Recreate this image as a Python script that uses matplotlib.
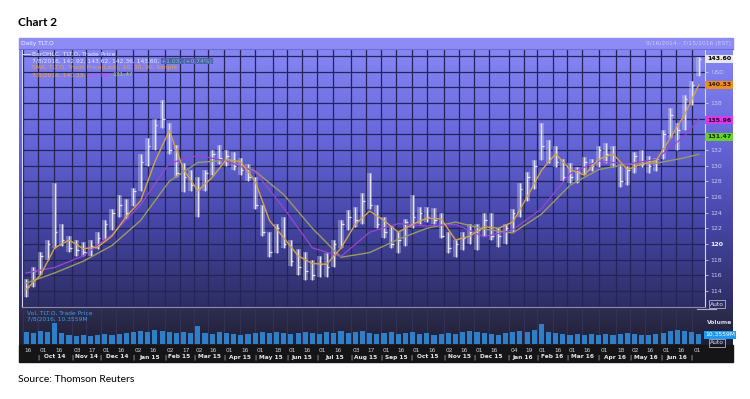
import matplotlib
matplotlib.use('Agg')
import numpy as np
import pandas as pd
import matplotlib.pyplot as plt
import matplotlib.dates as mdates
from matplotlib.colors import LinearSegmentedColormap
from matplotlib.patches import Rectangle
from matplotlib.transforms import blended_transform_factory

# weekly bars (week ending Fridays)
highs = [115.5, 117.0, 119.0, 120.5, 127.8, 122.5, 121.0, 120.5, 120.2, 120.5,
         121.5, 123.0, 124.5, 126.3, 125.8, 127.2, 131.5, 133.5, 136.0, 138.4,
         135.5, 132.6, 130.3, 129.5, 128.5, 129.5, 132.0, 132.6, 132.0, 131.8,
         131.0, 130.2, 128.5, 125.0, 121.5, 122.5, 123.4, 120.5, 119.3, 119.0,
         118.0, 118.5, 118.8, 120.5, 123.0, 124.3, 124.7, 126.5, 129.0, 125.0,
         123.5, 122.3, 121.5, 123.2, 126.2, 124.7, 124.7, 124.6, 124.0, 121.5,
         120.5, 121.5, 122.5, 122.5, 124.0, 124.0, 122.0, 122.5, 124.5, 127.8,
         129.2, 130.7, 135.4, 133.3, 132.5, 130.8, 130.3, 129.8, 131.1, 130.8,
         132.5, 132.9, 132.5, 130.2, 130.0, 131.8, 132.0, 131.2, 131.0, 134.5,
         137.4, 135.5, 139.0, 140.8, 143.9]
lows = [113.2, 114.5, 116.0, 118.0, 119.5, 119.8, 119.0, 118.5, 118.4, 118.5,
        119.3, 120.5, 121.8, 123.5, 123.2, 124.8, 126.8, 130.0, 132.0, 134.8,
        131.5, 128.5, 126.6, 126.7, 123.4, 126.8, 128.8, 130.2, 130.0, 129.5,
        128.8, 128.0, 124.5, 121.0, 118.3, 118.8, 119.5, 117.2, 116.0, 115.4,
        115.4, 115.8, 115.8, 117.0, 119.5, 121.8, 122.2, 122.5, 124.5, 122.0,
        120.8, 119.5, 118.8, 119.8, 122.0, 122.5, 122.8, 122.5, 120.8, 118.8,
        118.3, 119.2, 120.0, 119.2, 121.0, 120.5, 119.6, 120.0, 121.5, 123.5,
        125.5, 127.0, 130.7, 130.3, 129.8, 128.0, 127.8, 127.8, 128.8, 129.3,
        129.8, 130.3, 129.8, 127.3, 127.5, 129.0, 129.8, 129.0, 129.3, 130.8,
        133.5, 132.0, 134.5, 137.8, 141.5]
closes = [114.5, 116.5, 118.5, 120.0, 121.5, 120.5, 119.5, 119.2, 119.0, 119.8,
          120.8, 122.5, 124.0, 125.0, 124.0, 126.8, 130.5, 132.5, 135.2, 136.0,
          132.0, 129.0, 128.5, 127.5, 127.0, 129.0, 131.5, 131.0, 131.2, 130.0,
          129.5, 128.5, 125.0, 121.5, 119.0, 122.0, 120.0, 117.8, 117.0, 116.5,
          116.0, 117.5, 117.0, 120.0, 122.5, 123.5, 123.0, 125.5, 125.0, 122.5,
          121.5, 120.0, 120.5, 122.8, 123.5, 124.0, 123.5, 123.0, 121.0, 119.5,
          120.0, 120.8, 121.5, 121.8, 123.0, 121.0, 121.0, 122.0, 124.0, 127.0,
          128.5, 130.0, 132.5, 131.0, 130.5, 128.5, 128.5, 129.2, 130.5, 130.0,
          132.0, 131.5, 130.0, 128.0, 129.5, 131.2, 130.2, 130.0, 130.8, 134.0,
          136.5, 134.5, 138.5, 140.3, 143.6]
volume = [12, 11, 13, 12, 21, 11, 9, 8, 9, 8,
          9, 10, 9, 10, 11, 12, 13, 12, 14, 13,
          12, 11, 12, 11, 18, 11, 10, 12, 11, 10,
          9, 10, 11, 12, 11, 12, 11, 10, 11, 12,
          11, 10, 12, 11, 13, 11, 12, 13, 11, 10,
          11, 12, 10, 11, 12, 10, 11, 9, 10, 11,
          10, 12, 13, 12, 11, 10, 9, 11, 12, 13,
          12, 14, 20, 12, 11, 10, 9, 10, 9, 10,
          9, 10, 9, 10, 11, 10, 9, 9, 10, 11,
          13, 14, 13, 12, 10]

# moving averages: fast one every 2nd week, slower ones every 4th week (+ last)
sma_fast = [114.2, 116.0, 119.5, 120.5, 119.4, 119.6, 121.0, 123.5, 125.5, 130.5,
            134.5, 129.5, 126.8, 128.5, 130.8, 130.5, 128.0, 123.0, 120.8, 118.5,
            117.5, 117.4, 119.5, 122.5, 124.2, 123.0, 121.5, 122.5, 123.3, 123.2,
            120.5, 121.0, 122.2, 122.0, 122.8, 126.0, 129.4, 131.5, 129.5, 128.8,
            130.8, 131.5, 129.5, 130.2, 130.6, 133.5, 136.5, 140.33]
sma_mid = [116.3, 117.0, 118.5, 121.2, 125.0, 130.3, 131.3, 130.6, 129.2, 124.6,
           119.5, 118.4, 121.5, 122.6, 122.3, 122.5, 120.9, 121.8, 124.5, 129.0,
           130.6, 130.2, 130.8, 133.8, 135.96]
sma_slow = [115.0, 116.3, 117.8, 119.8, 123.0, 128.0, 130.4, 130.7, 129.3, 126.3,
            122.0, 118.3, 118.9, 120.6, 122.0, 122.8, 121.9, 121.4, 123.8, 127.5,
            129.5, 130.2, 130.3, 131.0, 131.47]

tick_dates = ['2014-09-16', '2014-10-01', '2014-10-16', '2014-11-03', '2014-11-17',
              '2014-12-01', '2014-12-16', '2015-01-02', '2015-01-16', '2015-02-02',
              '2015-02-17', '2015-03-02', '2015-03-16', '2015-04-01', '2015-04-16',
              '2015-05-01', '2015-05-18', '2015-06-01', '2015-06-16', '2015-07-01',
              '2015-07-16', '2015-08-03', '2015-08-17', '2015-09-01', '2015-09-16',
              '2015-10-01', '2015-10-16', '2015-11-02', '2015-11-16', '2015-12-01',
              '2015-12-16', '2016-01-04', '2016-01-19', '2016-02-01', '2016-02-16',
              '2016-03-01', '2016-03-16', '2016-04-01', '2016-04-18', '2016-05-02',
              '2016-05-16', '2016-06-01', '2016-06-16', '2016-07-01']
months = ['Oct 14', 'Nov 14', 'Dec 14', 'Jan 15', 'Feb 15', 'Mar 15', 'Apr 15',
          'May 15', 'Jun 15', 'Jul 15', 'Aug 15', 'Sep 15', 'Oct 15', 'Nov 15',
          'Dec 15', 'Jan 16', 'Feb 16', 'Mar 16', 'Apr 16', 'May 16', 'Jun 16']
price_ticks = [114, 116, 118, 120, 122, 124, 126, 128, 130, 132, 138]

W, H = 750, 399
SMALL = ['Liberation Sans Narrow', 'DejaVu Sans']


def box(l, t, r, b):
    return [l / W, 1 - b / H, (r - l) / W, (b - t) / H]


def after(prev, txt, color, **kw):
    # place a text right after another one on the same line
    return ov.annotate(txt, xy=(1, 0.5), xycoords=prev, xytext=(1.5, 0), textcoords='offset points',
                       va='center', ha='left', color=color, fontsize=4.3, family=SMALL, **kw)


fig = plt.figure(figsize=(7.5, 3.99), dpi=100)
fig.patch.set_facecolor('white')

# background panels in pixel coords
bg = fig.add_axes([0, 0, 1, 1])
bg.axis('off')
grad = np.linspace(0, 1, 256).reshape(-1, 1)
cm_price = LinearSegmentedColormap.from_list('p', ['#8686f4', '#6868dc', '#4646a8', '#2d2d62'])
cm_vol = LinearSegmentedColormap.from_list('v', ['#2e2e52', '#1f1f34'])
bg.imshow(grad, extent=(19, 733, 308, 49), cmap=cm_price, aspect='auto')
bg.imshow(grad, extent=(19, 733, 345, 308), cmap=cm_vol, aspect='auto')
bg.add_patch(Rectangle((19, 38), 714, 11, color='#8c8cf4'))
bg.add_patch(Rectangle((19, 345), 714, 17, color='#151518'))
bg.plot([19, 733], [49, 49], color='#6a6ad0', lw=0.8)
bg.set_xlim(0, W)
bg.set_ylim(H, 0)

wx = mdates.date2num(pd.date_range('2014-09-19', periods=len(closes), freq='7D').to_pydatetime())
tx = mdates.date2num(pd.to_datetime(tick_dates).to_pydatetime())
x0 = mdates.date2num(pd.Timestamp('2014-09-15').to_pydatetime())
x1 = mdates.date2num(pd.Timestamp('2016-07-14').to_pydatetime())

# price panel
ax = fig.add_axes(box(22, 50, 705, 307))
ax.patch.set_alpha(0)
for v in range(114, 145, 2):
    ax.axhline(v, color='#24245a', lw=0.9, zorder=0)
for t in tx:
    ax.axvline(t, color='#24245a', lw=0.9, zorder=0)
hi = np.array(highs)
lo = np.array(lows)
ax.bar(wx, hi - lo, bottom=lo, width=5.0, color='#d4d4f4', alpha=0.35, zorder=2)
ax.vlines(wx, lows, highs, color='#e2e2fa', lw=1.0, zorder=3)
ax.hlines(closes, wx, wx + 2.5, color='#e2e2fa', lw=0.9, zorder=3)
ax.plot(wx[::4].tolist() + [wx[-1]], sma_slow, color='#9a9a62', lw=1.0, zorder=4)
ax.plot(wx[::4].tolist() + [wx[-1]], sma_mid, color='#9a46d2', lw=0.9, zorder=4)
ax.plot(wx[::2], sma_fast, color='#d2a44a', lw=1.0, zorder=5)
ax.set_xlim(x0, x1)
ax.set_ylim(111.95, 144.77)
ax.yaxis.tick_right()
ax.set_yticks(range(114, 145, 2))
ax.set_yticklabels([str(v) if v in price_ticks else '' for v in range(114, 145, 2)], family=SMALL)
ax.tick_params(axis='y', colors='#c8c8f2', labelsize=4.5, length=2, width=0.6, pad=1.5)
for lab in ax.get_yticklabels():
    if lab.get_text() == '120':
        lab.set_fontweight('bold')
        lab.set_color('#f0f0ff')
ax.set_xticks([])
ax.spines['top'].set_visible(False)
for s in ['left', 'right']:
    ax.spines[s].set_color('#d6d6f6')
    ax.spines[s].set_linewidth(0.8)
ax.spines['bottom'].set_color('#8a8aae')
ax.spines['bottom'].set_linewidth(0.8)

# volume panel
axv = fig.add_axes(box(22, 309, 705, 344))
axv.patch.set_alpha(0)
for t in tx:
    axv.axvline(t, color='#33335a', lw=0.7, zorder=0)
axv.bar(wx, volume, width=5.0, color='#2e7ec8', zorder=2)
axv.set_xlim(x0, x1)
axv.set_ylim(0, 35)
axv.set_xticks([])
axv.set_yticks([])
for s in axv.spines.values():
    s.set_visible(False)

# overlay for texts (pixel coords)
ov = fig.add_axes([0, 0, 1, 1], zorder=10)
ov.patch.set_alpha(0)
ov.axis('off')
ov.set_xlim(0, W)
ov.set_ylim(H, 0)

fig.text(18 / W, 1 - 26 / H, 'Chart 2', family=['Lato', 'DejaVu Sans'], fontweight='bold',
         fontsize=8.5, color='black', va='baseline')
fig.text(18 / W, 1 - 382 / H, 'Source: Thomson Reuters', family=['Lato', 'DejaVu Sans'],
         fontsize=7.5, color='black', va='baseline')

ov.text(21, 43.5, 'Daily TLT.O', color='#f4f4ff', fontsize=4.3, va='center', family=SMALL)
ov.text(731, 43.5, '9/16/2014 - 7/15/2016 (EST)', color='#c8c8fa', fontsize=4.3,
        va='center', ha='right', family=SMALL)

# legend block
ov.plot([22, 30], [54, 54], color='#d6d6f6', lw=0.7)
ov.text(32, 54, 'BarOHLC, TLT.O, Trade Price', color='#e8e8ff', fontsize=4.3, va='center', family=SMALL)
t2 = ov.text(32, 61, '7/8/2016, 142.92, 143.62, 142.36, 143.60,', color='#e8e8ff', fontsize=4.3,
             va='center', family=SMALL)
after(t2, '+1.03, (+0.74%)', '#50e090', bbox=dict(boxstyle='square,pad=0.1', fc='#5a5ab8', ec='none'))
ov.text(32, 68, 'SMA, TLT.O, Trade Price(Last), 10, 30, 90, Simple', color='#f0a040', fontsize=4.3,
        va='center', family=SMALL)
t4 = ov.text(32, 75, '7/8/2016, 140.33,', color='#f0a040', fontsize=4.3, va='center', family=SMALL)
t5 = after(t4, '135.96,', '#e040f0')
after(t5, '131.47', '#b0d050')

# right-hand value flags
flags = [('143.60', 59, '#e8e8e8', 'black'), ('140.33', 85, '#f08c1c', '#302000'),
         ('135.96', 120, '#d83ae8', '#300030'), ('131.47', 137, '#68d22c', '#103000')]
for txt, y, fc, tc in flags:
    ov.text(707, y, txt, color=tc, fontsize=4.5, va='center', ha='left', family=SMALL,
            fontweight='bold', bbox=dict(boxstyle='square,pad=0.25', fc=fc, ec='none'))
ov.text(712, 72, 'USD', color='#c8c8f2', fontsize=4.3, va='center', family=SMALL)
ov.text(710, 304, 'Auto', color='#e0e0f0', fontsize=4.3, va='center', family=SMALL,
        bbox=dict(boxstyle='square,pad=0.2', fc='none', ec='#d0d0e0', lw=0.5))
ov.plot([697, 716], [309, 309], color='#b0b0c8', lw=0.8)
ov.text(707, 323, 'Volume', color='#d8d8e8', fontsize=4.3, va='center', family=SMALL,
        fontweight='bold')
ov.text(705, 335, '10.3559M', color='white', fontsize=4.3, va='center', family=SMALL,
        bbox=dict(boxstyle='square,pad=0.2', fc='#1e9af0', ec='none'))
ov.text(710, 343, 'Auto', color='#e0e0f0', fontsize=4.3, va='center', family=SMALL,
        bbox=dict(boxstyle='square,pad=0.2', fc='none', ec='#d0d0e0', lw=0.5))

ov.text(27, 313, 'Vol, TLT.O, Trade Price', color='#3c9ef0', fontsize=4.3, va='center', family=SMALL)
ov.text(27, 319, '7/8/2016, 10.3559M', color='#3c9ef0', fontsize=4.3, va='center', family=SMALL)

# date axis
tr = blended_transform_factory(axv.transData, ov.transData)
for t, d in zip(tx, tick_dates):
    ov.text(t + 1.5, 351, d[-2:], transform=tr, color='#d0d0d0', fontsize=4.2,
            va='center', ha='left', family=SMALL)
seps = tx[1::2]
for t in seps:
    ov.text(t, 357, '|', transform=tr, color='#e0e0e0', fontsize=4.2, va='center',
            ha='center', family=SMALL)
for i, m in enumerate(months):
    ov.text((seps[i] + seps[i + 1]) / 2, 357, m, transform=tr, color='#e8e8e8', fontsize=4.2,
            va='center', ha='center', family=SMALL, fontweight='bold')

fig.savefig('out.png', dpi=100, facecolor='white')
